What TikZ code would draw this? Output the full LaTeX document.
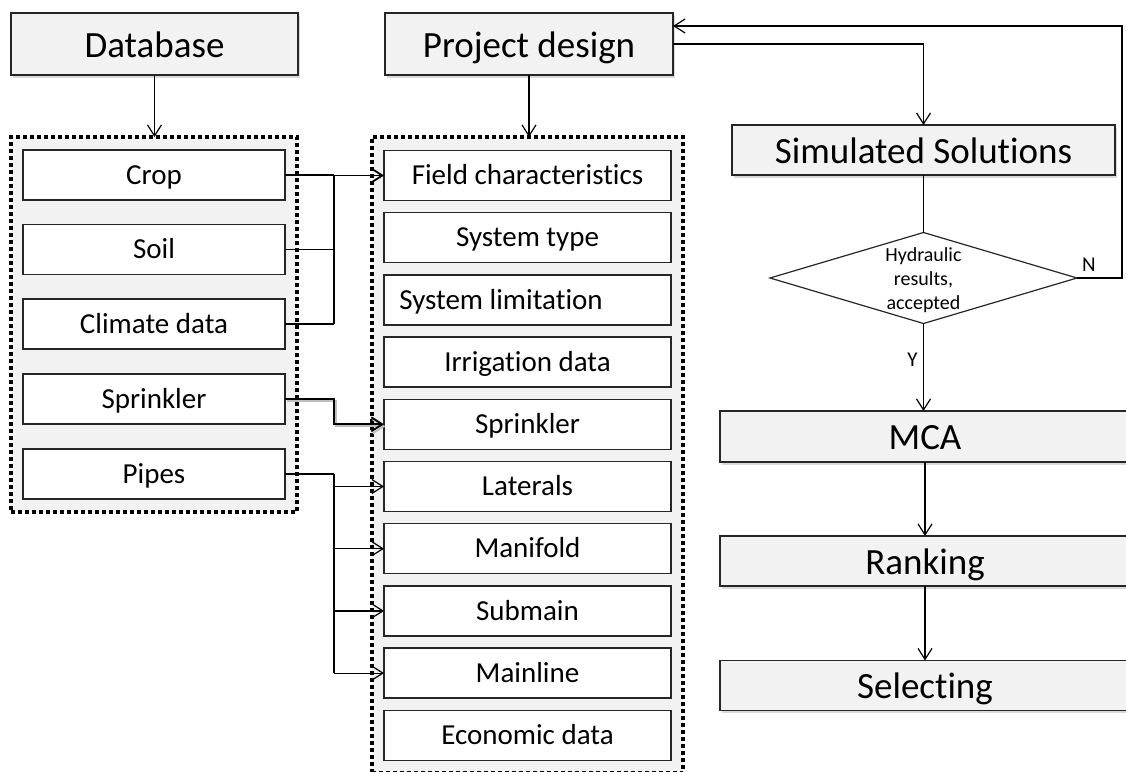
\documentclass[tikz,border=0pt]{standalone}
\usepackage{fontspec}
\setmainfont{Carlito}[Ligatures=NoCommon]
\usetikzlibrary{arrows.meta,shapes.geometric,shadows}
\definecolor{boxgray}{HTML}{F2F2F2}
\definecolor{edgegray}{HTML}{262626}

\begin{document}
\begin{tikzpicture}[x=1pt,y=-1pt,
  every node/.style={inner sep=0pt, outer sep=0pt},
  headbox/.style={draw=edgegray, line width=1.4pt, fill=boxgray,
    drop shadow={shadow xshift=2pt, shadow yshift=-2.5pt, opacity=0.3},
    font=\fontsize{37}{44}\selectfont, text height=26pt, text depth=0pt},
  groupframe/.style={draw=black, fill=boxgray, line width=3.6pt,
    dash pattern=on 3.6pt off 3.4pt},
  itembox/.style={draw=edgegray, line width=1.3pt, fill=white,
    minimum height=50pt, font=\fontsize{29}{34}\selectfont,
    text height=18.5pt, text depth=0pt},
  lbox/.style={itembox, minimum width=262pt},
  rbox/.style={itembox, minimum width=287pt},
  decision/.style={diamond, draw=edgegray, line width=1.2pt, fill=white,
    minimum width=307pt, minimum height=91pt},
  dtext/.style={align=center, font=\fontsize{20}{24}\selectfont},
  tag/.style={font=\fontsize{21}{25}\selectfont},
  wire/.style={draw=black, line width=1.2pt},
  heavy/.style={line width=1.8pt},
  arr/.style={-{Straight Barb[length=11pt,width=14pt]}},
  lift/.style={preaction={draw=black!25, line width=2pt,
    transform canvas={shift={(1.5pt,-2pt)}}}}
]
\useasboundingbox (0,0) rectangle (1126,771);

% header boxes
\node[headbox, minimum width=287pt, minimum height=62pt] (db) at (154.5,44) {Database};
\node[headbox, minimum width=288pt, minimum height=62pt] (pd) at (529,44) {Project design};
\node[headbox, minimum width=383pt, minimum height=50pt] (sim) at (923.5,150) {Simulated Solutions};

% dotted groups
\node[groupframe, minimum width=286pt, minimum height=375pt] (lframe) at (154,324.5) {};
\node[groupframe, minimum width=311pt, minimum height=636pt] (rframe) at (527.5,455) {};

% database items
\node[lbox] (crop)  at (154,175)   {Crop};
\node[lbox] (soil)  at (154,249.5) {Soil};
\node[lbox] (clim)  at (154,324)   {Climate data};
\node[lbox] (lspr)  at (154,399)   {Sprinkler};
\node[lbox] (pipes) at (154,474)   {Pipes};

% project design items
\node[rbox] (field) at (527.5,175.5) {Field characteristics};
\node[rbox] (stype) at (527.5,237.7) {System type};
\node[rbox] (slim)  at (527.5,299.9) {System limitation\hspace*{53pt}};
\node[rbox] (irr)   at (527.5,362.1) {Irrigation data};
\node[rbox] (rspr)  at (527.5,424.3) {Sprinkler};
\node[rbox] (lat)   at (527.5,486.5) {Laterals};
\node[rbox] (man)   at (527.5,548.7) {Manifold};
\node[rbox] (sub)   at (527.5,610.9) {Submain};
\node[rbox] (mainl) at (527.5,673.1) {Mainline};
\node[rbox] (econ)  at (527.5,735.3) {Economic data};

% evaluation chain
\node[decision] (hyd) at (923.5,278) {};
\node[dtext] (hydtxt) at (923.5,280) {Hydraulic\\results,\\accepted};
\node[headbox, minimum width=410pt, minimum height=51pt] (mca)  at (925,436.5) {MCA};
\node[headbox, minimum width=410pt, minimum height=50pt] (rank) at (925,561)   {Ranking};
\node[headbox, minimum width=410pt, minimum height=50pt] (sel)  at (925,685.5) {Selecting};

% header connectors
\draw[wire, arr] (db.south) -- (db.south |- lframe.north);
\draw[wire, arr] (pd.south) -- (pd.south |- rframe.north);
\draw[wire, arr] (pd.east) -| (sim.north);
\draw[wire] (sim.south) -- (hyd.north);
\draw[wire, arr] (hyd.south) -- (hyd.south |- mca.north)
  node[tag, pos=0.42, left=6pt] (ylab) {Y};
\draw[wire, arr] (mca.south) -- (rank.north);
\draw[wire, arr] (rank.south) -- (sel.north);
\coordinate (nturn) at (1122,26);
\draw[wire, arr] (hyd.east) -| (nturn) -- (pd.east |- nturn);
\node[tag] (nlab) at (1089,265) {N};

% database to project design
\coordinate (jx) at (334,0);
\draw[wire] (crop.east) -- (crop.east -| jx);
\draw[wire] (soil.east) -- (soil.east -| jx);
\draw[wire] (clim.east) -- (clim.east -| jx);
\draw[wire, heavy, arr] (clim.east -| jx) -- (jx |- field.west) -- (field.west);
\draw[wire, heavy, arr, lift] (lspr.east) -- (lspr.east -| jx) -- (jx |- rspr.west) -- (rspr.west);
\draw[wire, heavy] (pipes.east) -- (pipes.east -| jx);
\draw[wire] (pipes.east -| jx) -- (jx |- mainl.west);
\foreach \t in {lat,man,sub,mainl}
  \draw[wire, arr] (jx |- \t.west) -- (\t.west);
\end{tikzpicture}
\end{document}
